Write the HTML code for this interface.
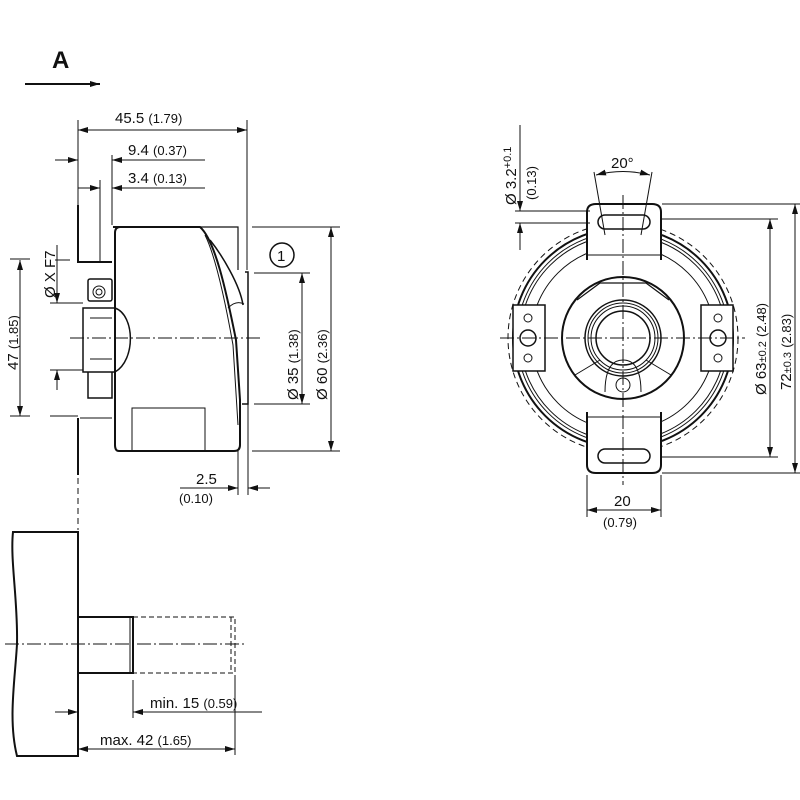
<!DOCTYPE html>
<html><head><meta charset="utf-8"><style>
html,body{margin:0;padding:0;background:#fff}
svg{display:block}
text{font-family:"Liberation Sans",sans-serif;fill:#111}
</style></head><body>
<svg width="800" height="800" viewBox="0 0 800 800" xmlns="http://www.w3.org/2000/svg">
<defs>
<marker id="a" viewBox="0 0 10 6" refX="10" refY="3" markerWidth="10" markerHeight="6" orient="auto-start-reverse" markerUnits="userSpaceOnUse"><path d="M0,0L10,3L0,6z" fill="#111"/></marker>
</defs>
<g stroke="#111" fill="none" stroke-width="1">
<line x1="25" y1="84" x2="100" y2="84" stroke-width="2" marker-end="url(#a)"/>
<line x1="78" y1="120" x2="78" y2="205"/>
<line x1="247" y1="120" x2="247" y2="270"/>
<line x1="78" y1="130" x2="247" y2="130" marker-start="url(#a)" marker-end="url(#a)"/>
<line x1="55" y1="160" x2="78" y2="160" marker-end="url(#a)"/>
<line x1="112" y1="160" x2="205" y2="160" marker-start="url(#a)"/>
<line x1="112" y1="155" x2="112" y2="225"/>
<line x1="100" y1="180" x2="100" y2="262"/>
<line x1="78" y1="188" x2="100" y2="188" marker-end="url(#a)"/>
<line x1="112" y1="188" x2="205" y2="188" marker-start="url(#a)"/>
<path d="M78,205V262H112" stroke-width="2"/>
<path d="M78,418V475" stroke-width="2"/>
<path d="M80,418H112"/>
<line x1="78" y1="478" x2="78" y2="530" stroke-dasharray="6,4"/>
<path d="M113,227H200C215,240 226,290 236,340 L240,400 L240,445 Q240,451 234,451 H119 Q115,451 115,445 V233 Q115,227 120,227Z" stroke-width="2"/>
<path d="M200,227H238V270" stroke-width="1.2"/>
<path d="M245,272H248V404H242" stroke-width="1.5"/>
<path d="M205,235C215,255 225,300 233,345L238,425" />
<path d="M210,240C222,255 240,285 243,305" stroke-width="1.5"/>
<path d="M228,308Q236,300 244,304"/>
<path d="M132,451V408H205V451"/>
<rect x="88" y="279" width="24" height="22" rx="2" stroke-width="1.5"/>
<circle cx="99" cy="292" r="6"/><circle cx="99" cy="292" r="3"/>
<path d="M83,308H115C135,315 136,360 115,372H83Z" stroke-width="1.5"/>
<path d="M88,372V398H112V372" stroke-width="1.5"/>
<line x1="90" y1="318" x2="112" y2="318"/><line x1="90" y1="359" x2="112" y2="359"/>
<line x1="70" y1="338" x2="260" y2="338" stroke-dasharray="14,3,2,3"/>
<line x1="55" y1="260" x2="70" y2="260"/><line x1="50" y1="416" x2="78" y2="416"/>
<line x1="20" y1="260" x2="20" y2="416" marker-start="url(#a)" marker-end="url(#a)"/>
<line x1="10" y1="259" x2="30" y2="259"/><line x1="10" y1="416" x2="30" y2="416"/>
<line x1="57" y1="245" x2="57" y2="303" marker-end="url(#a)"/>
<line x1="57" y1="370" x2="57" y2="390" marker-start="url(#a)"/>
<line x1="50" y1="303" x2="83" y2="303"/><line x1="50" y1="370" x2="83" y2="370"/>
<line x1="252" y1="227" x2="340" y2="227"/><line x1="252" y1="451" x2="340" y2="451"/>
<line x1="331" y1="227" x2="331" y2="451" marker-start="url(#a)" marker-end="url(#a)"/>
<line x1="254" y1="273" x2="310" y2="273"/><line x1="254" y1="404" x2="310" y2="404"/>
<line x1="302" y1="273" x2="302" y2="404" marker-start="url(#a)" marker-end="url(#a)"/>
<circle cx="282" cy="255" r="12" stroke-width="1.5"/>
<line x1="238" y1="451" x2="238" y2="495"/><line x1="248" y1="404" x2="248" y2="495"/>
<line x1="180" y1="488" x2="238" y2="488" marker-end="url(#a)"/>
<line x1="248" y1="488" x2="270" y2="488" marker-start="url(#a)"/>
<path d="M78,532H13C10,560 18,600 17,644C15,680 8,720 17,756H78Z" stroke-width="2"/>
<path d="M78,617H133V673H78" stroke-width="2"/>
<line x1="130" y1="617" x2="130" y2="673"/>
<path d="M133,617H235V673H133M231,617V673" stroke-dasharray="5,3"/>
<line x1="5" y1="644" x2="245" y2="644" stroke-dasharray="14,3,2,3"/>
<line x1="133" y1="680" x2="133" y2="718"/><line x1="235" y1="675" x2="235" y2="755"/>
<line x1="55" y1="712" x2="78" y2="712" marker-end="url(#a)"/>
<line x1="133" y1="712" x2="262" y2="712" marker-start="url(#a)"/>
<line x1="78" y1="749" x2="235" y2="749" marker-start="url(#a)" marker-end="url(#a)"/>
<!-- right view -->
<circle cx="623" cy="338" r="115" stroke-dasharray="6,4"/>
<circle cx="623" cy="338" r="110" stroke-width="2"/>
<circle cx="623" cy="338" r="106"/>
<circle cx="623" cy="338" r="103"/>
<circle cx="623" cy="338" r="92"/>
<circle cx="623" cy="338" r="61" stroke-width="2"/>
<path d="M577,300L600,283H646L669,300" stroke-width="1.2"/>
<path d="M575,375L600,360M671,375L646,360"/>
<path d="M605,392Q605,360 623,360Q641,360 641,392" />
<circle cx="623" cy="338" r="38" stroke-width="1.5"/>
<circle cx="623" cy="338" r="35"/>
<circle cx="623" cy="338" r="32"/>
<circle cx="623" cy="338" r="27" stroke-width="1.5"/>
<path d="M587,260V212Q587,204 596,204H652Q661,204 661,212V260" fill="#fff" stroke-width="2"/>
<line x1="587" y1="255" x2="661" y2="255"/>
<path d="M587,412V465Q587,473 596,473H652Q661,473 661,465V412" fill="#fff" stroke-width="2"/>
<line x1="587" y1="417" x2="661" y2="417"/>
<rect x="598" y="215" width="52" height="14" rx="7" stroke-width="1.5"/>
<rect x="598" y="449" width="52" height="14" rx="7" stroke-width="1.5"/>
<rect x="513" y="305" width="32" height="66" fill="#fff" stroke-width="1.5"/>
<rect x="701" y="305" width="32" height="66" fill="#fff" stroke-width="1.5"/>
<circle cx="528" cy="318" r="4"/><circle cx="528" cy="358" r="4"/><circle cx="528" cy="338" r="8" stroke-width="1.5"/>
<circle cx="718" cy="318" r="4"/><circle cx="718" cy="358" r="4"/><circle cx="718" cy="338" r="8" stroke-width="1.5"/>
<circle cx="623" cy="385" r="7" fill="#fff"/>
<line x1="500" y1="338" x2="745" y2="338" stroke-dasharray="14,3,2,3"/>
<line x1="623" y1="195" x2="623" y2="485" stroke-dasharray="14,3,2,3"/>
<line x1="594" y1="172" x2="605" y2="235"/><line x1="652" y1="172" x2="641" y2="235"/>
<path d="M596,175Q623,168 650,175" marker-start="url(#a)" marker-end="url(#a)"/>
<line x1="520" y1="125" x2="520" y2="211" marker-end="url(#a)"/>
<line x1="520" y1="223" x2="520" y2="250" marker-start="url(#a)"/>
<line x1="515" y1="211" x2="590" y2="211"/><line x1="515" y1="223" x2="590" y2="223"/>
<line x1="662" y1="204" x2="800" y2="204"/><line x1="662" y1="473" x2="800" y2="473"/>
<line x1="662" y1="219" x2="778" y2="219"/><line x1="662" y1="457" x2="778" y2="457"/>
<line x1="770" y1="219" x2="770" y2="457" marker-start="url(#a)" marker-end="url(#a)"/>
<line x1="795" y1="204" x2="795" y2="473" marker-start="url(#a)" marker-end="url(#a)"/>
<line x1="587" y1="475" x2="587" y2="517"/><line x1="661" y1="475" x2="661" y2="517"/>
<line x1="587" y1="510" x2="661" y2="510" marker-start="url(#a)" marker-end="url(#a)"/>
</g>
<g font-size="15">
<text x="52" y="68" font-size="24" font-weight="bold">A</text>
<text x="115" y="123">45.5 <tspan font-size="13">(1.79)</tspan></text>
<text x="128" y="155">9.4 <tspan font-size="13">(0.37)</tspan></text>
<text x="128" y="183">3.4 <tspan font-size="13">(0.13)</tspan></text>
<text x="196" y="484">2.5</text>
<text x="179" y="503" font-size="13">(0.10)</text>
<text x="150" y="708">min. 15 <tspan font-size="13">(0.59)</tspan></text>
<text x="100" y="745">max. 42 <tspan font-size="13">(1.65)</tspan></text>
<text x="277" y="261" font-size="15">1</text>
<text transform="translate(18,370) rotate(-90)">47 <tspan font-size="13">(1.85)</tspan></text>
<text transform="translate(55,298) rotate(-90)">Ø X F7</text>
<text transform="translate(298,400) rotate(-90)">Ø 35 <tspan font-size="13">(1.38)</tspan></text>
<text transform="translate(327,400) rotate(-90)">Ø 60 <tspan font-size="13">(2.36)</tspan></text>
<text x="611" y="168">20°</text>
<text x="614" y="506">20</text>
<text x="603" y="527" font-size="13">(0.79)</text>
<text transform="translate(516,205) rotate(-90)">Ø 3.2<tspan font-size="11" dy="-5">+0.1</tspan></text>
<text transform="translate(536,200) rotate(-90)" font-size="13">(0.13)</text>
<text transform="translate(766,395) rotate(-90)">Ø 63<tspan font-size="11">±0.2</tspan> <tspan font-size="13">(2.48)</tspan></text>
<text transform="translate(791,390) rotate(-90)">72<tspan font-size="11">±0.3</tspan> <tspan font-size="13">(2.83)</tspan></text>
</g>
</svg>
</body></html>
